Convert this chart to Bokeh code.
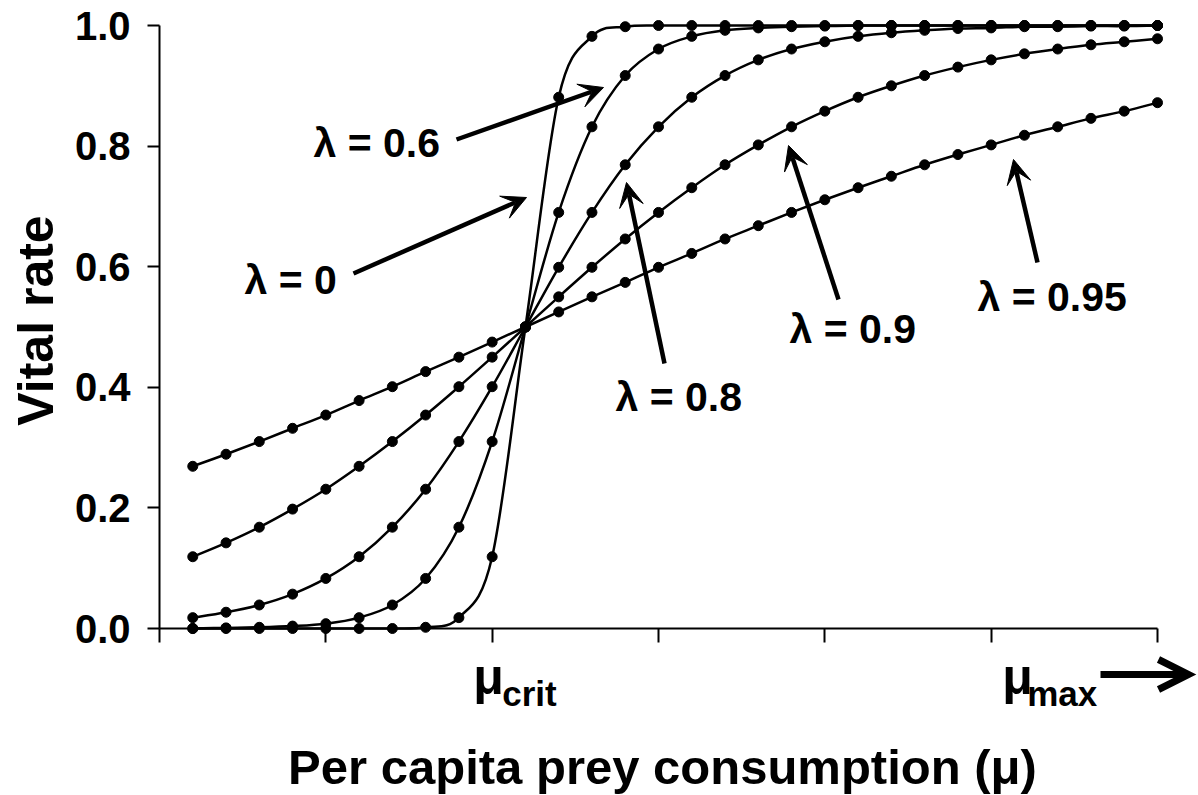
import numpy as np
from bokeh.plotting import figure
from bokeh.models import (Range1d, LinearAxis, FixedTicker, Label, Arrow, VeeHead, OpenHead)
from bokeh.embed import file_html
from bokeh.resources import INLINE

# ---------------- data ----------------
consumption = [0.2, 0.4, 0.6, 0.8, 1.0, 1.2, 1.4, 1.6, 1.8, 2.0,
               2.2, 2.4, 2.6, 2.8, 3.0, 3.2, 3.4, 3.6, 3.8, 4.0,
               4.2, 4.4, 4.6, 4.8, 5.0, 5.2, 5.4, 5.6, 5.8, 6.0]

vital_lambda_0 = [0.000, 0.000, 0.000, 0.000, 0.000, 0.000, 0.000, 0.002, 0.018, 0.119,
                  0.500, 0.881, 0.982, 0.998, 1.000, 1.000, 1.000, 1.000, 1.000, 1.000,
                  1.000, 1.000, 1.000, 1.000, 1.000, 1.000, 1.000, 1.000, 1.000, 1.000]

vital_lambda_06 = [0.000, 0.001, 0.002, 0.004, 0.008, 0.018, 0.039, 0.083, 0.168, 0.310,
                   0.500, 0.690, 0.832, 0.917, 0.961, 0.982, 0.992, 0.996, 0.998, 0.999,
                   1.000, 1.000, 1.000, 1.000, 1.000, 1.000, 1.000, 1.000, 1.000, 1.000]

vital_lambda_08 = [0.018, 0.027, 0.039, 0.057, 0.083, 0.119, 0.168, 0.231, 0.310, 0.401,
                   0.500, 0.599, 0.690, 0.769, 0.832, 0.881, 0.917, 0.943, 0.961, 0.973,
                   0.982, 0.988, 0.992, 0.995, 0.996, 0.998, 0.998, 0.999, 0.999, 1.000]

vital_lambda_09 = [0.119, 0.142, 0.168, 0.198, 0.231, 0.269, 0.310, 0.354, 0.401, 0.450,
                   0.500, 0.550, 0.599, 0.646, 0.690, 0.731, 0.769, 0.802, 0.832, 0.858,
                   0.881, 0.900, 0.917, 0.931, 0.943, 0.953, 0.961, 0.968, 0.973, 0.978]

vital_lambda_095 = [0.269, 0.289, 0.310, 0.332, 0.354, 0.378, 0.401, 0.426, 0.450, 0.475,
                    0.500, 0.525, 0.550, 0.574, 0.599, 0.622, 0.646, 0.668, 0.690, 0.711,
                    0.731, 0.750, 0.769, 0.786, 0.802, 0.818, 0.832, 0.846, 0.858, 0.872]

y_ticks = [0.0, 0.2, 0.4, 0.6, 0.8, 1.0]
y_tick_labels = ["0.0", "0.2", "0.4", "0.6", "0.8", "1.0"]
x_ticks = [0, 1, 2, 3, 4, 5, 6]
mu_crit_tick = 2
mu_max_tick = 5
curve_labels = ["λ = 0", "λ = 0.6", "λ = 0.8", "λ = 0.9", "λ = 0.95"]
x_title = "Per capita prey consumption (μ)"
y_title = "Vital rate"

# ---------------- layout ----------------
FONT = "Liberation Sans"
W, H = 1198, 795
# canvas pixel anchors of the data axes
PX0, PX6 = 159.0, 1157.0
PY0, PY1 = 628.0, 25.0
sx = (PX6 - PX0) / 6.0
sy = (PY0 - PY1) / 1.0
x_start = -PX0 / sx
x_end = (W - PX0) / sx
y_end = 1.0 + PY1 / sy
y_start = -(H - PY0) / sy


def dx(px):
    return (px - PX0) / sx


def dy(py):
    return (PY0 - py) / sy


def text_label(px, py, text, size, align="left", angle=0.0):
    # (px, py) = left/centre x and vertical middle of the text, in pixels
    return Label(x=dx(px), y=dy(py), text=text, text_font=FONT, text_font_style="bold",
                 text_font_size=f"{size}px", text_color="black", angle=angle,
                 text_align=align, text_baseline="middle")


p = figure(width=W, height=H, x_range=Range1d(x_start, x_end), y_range=Range1d(y_start, y_end),
           output_backend="svg", toolbar_location=None, x_axis_type=None, y_axis_type=None,
           min_border_left=0, min_border_right=0, min_border_top=0, min_border_bottom=0)
p.outline_line_color = None
p.background_fill_color = "white"
p.border_fill_color = "white"

# axes drawn at x=0 / y=0, ticks pointing outward from the data area
yaxis = LinearAxis(fixed_location=0, bounds=(0, 1), ticker=FixedTicker(ticks=y_ticks, minor_ticks=[]),
                   major_label_overrides={t: "" for t in y_ticks})
xaxis = LinearAxis(fixed_location=0, bounds=(0, 6), ticker=FixedTicker(ticks=x_ticks, minor_ticks=[]),
                   major_label_overrides={t: "" for t in x_ticks})
for ax in (xaxis, yaxis):
    ax.axis_line_color = "black"
    ax.axis_line_width = 2
    ax.major_tick_line_color = "black"
    ax.major_tick_line_width = 2
    ax.major_tick_out = 0
    ax.minor_tick_line_color = None
    ax.major_label_text_font_size = "0px"
    ax.major_label_standoff = 0
yaxis.major_tick_in = 12
xaxis.major_tick_in = 14
p.add_layout(yaxis, "right")
p.add_layout(xaxis, "above")

for t, txt in zip(y_ticks, y_tick_labels):
    p.add_layout(Label(x=dx(130), y=t, text=txt, text_font=FONT, text_font_style="bold",
                       text_font_size="40px", text_color="black",
                       text_align="right", text_baseline="middle"))


def smooth_segments(xs, ys):
    x = np.asarray(xs, float)
    y = np.asarray(ys, float)
    n = len(x)
    qx = np.concatenate([[x[0]], x, [x[-1]]])
    qy = np.concatenate([[y[0]], y, [y[-1]]])
    cx0 = qx[1:n] + (qx[2:n + 1] - qx[0:n - 1]) / 6.0
    cy0 = qy[1:n] + (qy[2:n + 1] - qy[0:n - 1]) / 6.0
    cx1 = qx[2:n + 1] - (qx[3:n + 2] - qx[1:n]) / 6.0
    cy1 = qy[2:n + 1] - (qy[3:n + 2] - qy[1:n]) / 6.0
    return dict(x0=x[:-1], y0=y[:-1], x1=x[1:], y1=y[1:], cx0=cx0, cy0=cy0, cx1=cx1, cy1=cy1)


for series in (vital_lambda_095, vital_lambda_09, vital_lambda_08, vital_lambda_06, vital_lambda_0):
    seg = smooth_segments(consumption, series)
    p.bezier(x0=seg["x0"], y0=seg["y0"], x1=seg["x1"], y1=seg["y1"],
             cx0=seg["cx0"], cy0=seg["cy0"], cx1=seg["cx1"], cy1=seg["cy1"],
             line_color="black", line_width=2.5, line_cap="round")
    p.scatter(consumption, series, marker="circle", size=10,
              fill_color="black", line_color="black", line_width=1)

# ---------------- annotation arrows ----------------
arrows = [  # (tail x, tail y, tip x, tip y) in pixels
    (353, 273, 526, 197),
    (456, 139, 603, 87),
    (664, 363, 626, 182),
    (838, 299, 788, 145),
    (1037, 262, 1013, 159),
]
for (tx, ty, hx, hy) in arrows:
    p.add_layout(Arrow(x_start=dx(tx), y_start=dy(ty), x_end=dx(hx), y_end=dy(hy),
                       line_color="black", line_width=4.5,
                       end=VeeHead(size=24, fill_color="black", line_color="black", line_width=1)))

label_pos = [(244, 279), (313, 142.5), (615, 396), (789, 328), (977, 296)]
for text, (lx, ly) in zip(curve_labels, label_pos):
    p.add_layout(text_label(lx, ly, text, 41))

# ---------------- x tick labels mu_crit / mu_max ----------------
for tick, sub, off_mu, off_sub in ((mu_crit_tick, "crit", -19, 10), (mu_max_tick, "max", 11, 36)):
    base_x = PX0 + tick * sx
    p.add_layout(text_label(base_x + off_mu, 676, "μ", 50))
    p.add_layout(text_label(base_x + off_sub, 693, sub, 35))

p.add_layout(Arrow(x_start=dx(1100), y_start=dy(674), x_end=dx(1188), y_end=dy(674),
                   line_color="black", line_width=7,
                   end=OpenHead(size=30, line_color="black", line_width=7, line_join="miter")))

# ---------------- axis titles ----------------
p.add_layout(text_label(662, 766, x_title, 49, align="center"))
p.add_layout(text_label(35, 320, y_title, 50, align="center", angle=np.pi / 2))

open("out.html", "w").write(file_html(p, INLINE))
